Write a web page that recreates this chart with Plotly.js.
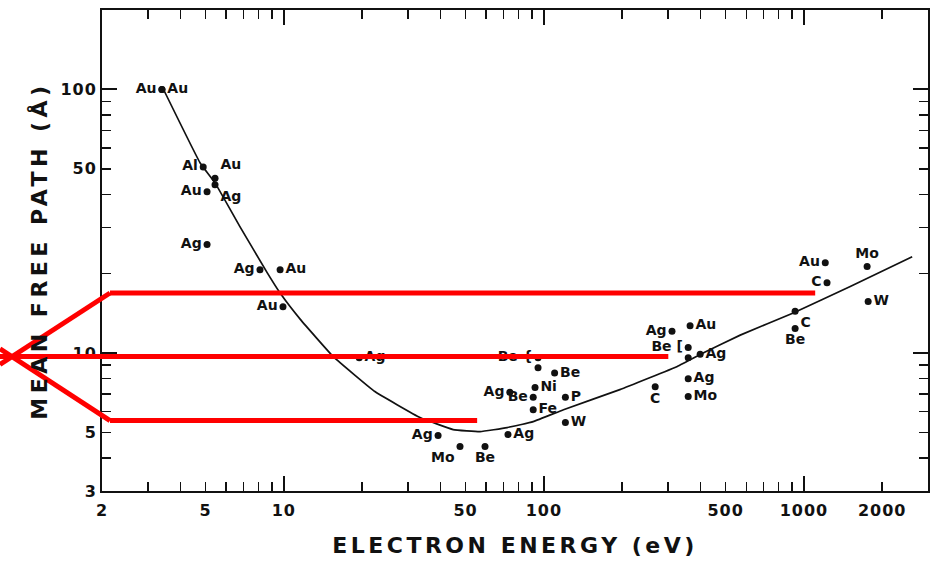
<!DOCTYPE html>
<html><head><meta charset="utf-8">
<script src="https://cdn.plot.ly/plotly-3.0.1.min.js"></script>
<style>html,body{margin:0;padding:0;background:#fff}</style>
</head><body><div id="chart" style="width:940px;height:563px"></div>
<script>
// ---- data (electron energy in eV, mean free path in Å) ----
const curveEnergy = [3.43, 4.77, 5.44, 6.79, 8.63, 9.68, 11.6, 15.5, 22.4, 33.4, 44.8, 56.9, 72.3, 91, 119, 196, 326, 417, 569, 910, 1507, 2608];
const curveLambda = [101, 52.6, 44.2, 30.1, 20.2, 16.9, 13.4, 9.7, 7.15, 5.70, 5.13, 5.04, 5.22, 5.5, 6.1, 7.27, 8.9, 10.1, 11.7, 14.2, 17.9, 23.2];

const leftEnergy = [3.4, 4.9, 5.07, 5.07, 8.1, 9.93, 95, 74, 91, 39.2, 311, 359, 1208, 1227];
const leftLambda = [100, 50.8, 40.9, 25.8, 20.7, 15.0, 9.6, 7.1, 6.8, 4.87, 12.1, 10.5, 22.0, 18.5];
const leftName = ['Au', 'Al', 'Au', 'Ag', 'Ag', 'Au', 'Be {', 'Ag', 'Be', 'Ag', 'Ag', 'Be [', 'Au', 'C'];

const rightEnergy = [3.4, 9.68, 19.5, 110, 92.5, 121, 91, 121, 72.8, 365, 399, 359, 359, 1766];
const rightLambda = [100, 20.7, 9.6, 8.4, 7.4, 6.8, 6.1, 5.45, 4.91, 12.7, 9.9, 8.0, 6.84, 15.7];
const rightName = ['Au', 'Au', 'Ag', 'Be', 'Ni', 'P', 'Fe', 'W', 'Ag', 'Au', 'Ag', 'Ag', 'Mo', 'W'];

const topRightEnergy = [5.44];
const topRightLambda = [46];
const topRightName = ['Au'];

const bottomRightEnergy = [5.44, 925];
const bottomRightLambda = [43.5, 14.4];
const bottomRightName = ['Ag', 'C'];

const belowEnergy = [59.4, 268, 925];
const belowLambda = [4.42, 7.46, 12.4];
const belowName = ['Be', 'C', 'Be'];

const bottomLeftEnergy = [47.6];
const bottomLeftLambda = [4.42];
const bottomLeftName = ['Mo'];

const aboveEnergy = [1750];
const aboveLambda = [21.3];
const aboveName = ['Mo'];

const plainEnergy = [95, 359];
const plainLambda = [8.8, 9.6];

const xTickVals = [2, 5, 10, 50, 100, 500, 1000, 2000];
const xTickText = ['2', '5', '10', '50', '100', '500', '1000', '2000'];
const xMinorVals = [3, 4, 6, 7, 8, 9, 20, 30, 40, 60, 70, 80, 90, 200, 300, 400, 600, 700, 800, 900];
const xDecadeVals = [10, 100, 1000];
const yTickVals = [3, 5, 10, 50, 100];
const yTickText = ['3', '5', '10', '50', '100'];
const yMinorVals = [4, 6, 7, 8, 9, 20, 30, 40, 60, 70, 80, 90];
const yDecadeVals = [10, 100];

// red guide lines (annotation overlay)
const guideLambda = [16.9, 9.7, 5.55];
const guideEndEnergy = [1105, 301, 55.4];

// ---- chart ----
const xRange = [Math.log10(2), Math.log10(3000)];
const yRange = [Math.log10(3), Math.log10(200)];
const FONT = 'DejaVu Sans, Liberation Sans, sans-serif';
const labelFont = {family: FONT, size: 14, color: '#111', weight: 'bold'};
const marker = {color: '#111', size: 7, symbol: 'circle'};

function pts(x, y, names, pos) {
  return {type: 'scatter', mode: names ? 'markers+text' : 'markers', x: x, y: y,
    text: names, textposition: pos, textfont: labelFont, marker: marker,
    hoverinfo: 'skip', showlegend: false, cliponaxis: false};
}

const traces = [
  {type: 'scatter', mode: 'lines', x: curveEnergy, y: curveLambda,
   line: {color: '#111', width: 1.7, shape: 'spline', smoothing: 0.3},
   hoverinfo: 'skip', showlegend: false},
  pts(leftEnergy, leftLambda, leftName, 'middle left'),
  pts(rightEnergy, rightLambda, rightName, 'middle right'),
  pts(topRightEnergy, topRightLambda, topRightName, 'top right'),
  pts(bottomRightEnergy, bottomRightLambda, bottomRightName, 'bottom right'),
  pts(belowEnergy, belowLambda, belowName, 'bottom center'),
  pts(bottomLeftEnergy, bottomLeftLambda, bottomLeftName, 'bottom left'),
  pts(aboveEnergy, aboveLambda, aboveName, 'top center'),
  pts(plainEnergy, plainLambda, null, null),
  {type: 'scatter', x: [], y: [], xaxis: 'x2', yaxis: 'y2', showlegend: false, hoverinfo: 'skip'}
];

const px = e => (Math.log10(e) - xRange[0]) / (xRange[1] - xRange[0]);
const py = l => (Math.log10(l) - yRange[0]) / (yRange[1] - yRange[0]);

// guide geometry in paper units
const xEdge = -0.1235, xCross = -0.109, xKnee = 0.0097;
const red = {color: '#ff0000', width: 5};
const shapes = [];
const lc = Math.log10(guideLambda[1]);
[0, 2].forEach(i => {
  const lk = Math.log10(guideLambda[i]);
  const l0 = lc + (xEdge - xCross) * (lk - lc) / (xKnee - xCross);
  shapes.push({type: 'line', xref: 'paper', yref: 'paper', x0: xEdge, x1: xKnee,
    y0: (l0 - yRange[0]) / (yRange[1] - yRange[0]), y1: py(guideLambda[i]), line: red, layer: 'above'});
  shapes.push({type: 'line', xref: 'paper', yref: 'paper', x0: xKnee, x1: px(guideEndEnergy[i]),
    y0: py(guideLambda[i]), y1: py(guideLambda[i]), line: red, layer: 'above'});
});
shapes.push({type: 'line', xref: 'paper', yref: 'paper', x0: xEdge, x1: px(guideEndEnergy[1]),
  y0: py(guideLambda[1]), y1: py(guideLambda[1]), line: red, layer: 'above'});

const tickFont = {family: FONT, size: 16, color: '#111', weight: 'bold'};
const baseAxis = {type: 'log', showgrid: false, zeroline: false, showline: true, linecolor: '#111',
  linewidth: 2, mirror: 'allticks', ticks: 'inside', ticklen: 9, tickwidth: 1.6, tickcolor: '#111',
  tickfont: tickFont, tickmode: 'array'};

const layout = {
  width: 940, height: 563,
  margin: {l: 102, r: 12, t: 10, b: 72},
  paper_bgcolor: '#fff', plot_bgcolor: '#fff',
  xaxis: Object.assign({}, baseAxis, {range: xRange, tickvals: xTickVals, ticktext: xTickText,
    ticklabelstandoff: 4,
    minor: {tickmode: 'array', tickvals: xMinorVals, ticks: 'inside', ticklen: 9, tickwidth: 1.4, tickcolor: '#111'},
    title: {text: 'ELECTRON ENERGY (eV)', font: {family: FONT, size: 22, color: '#111', weight: 'bold'}, standoff: 18},
    automargin: false}),
  yaxis: Object.assign({}, baseAxis, {range: yRange, tickvals: yTickVals, ticktext: yTickText,
    minor: {tickmode: 'array', tickvals: yMinorVals, ticks: 'inside', ticklen: 9, tickwidth: 1.4, tickcolor: '#111'},
    title: {text: 'MEAN FREE PATH (Å)', font: {family: FONT, size: 22, color: '#111', weight: 'bold'}, standoff: 10},
    automargin: false}),
  xaxis2: {type: 'log', overlaying: 'x', anchor: 'y2', range: xRange, showgrid: false, zeroline: false,
    showline: false, showticklabels: false, mirror: 'allticks', ticks: 'inside', ticklen: 15, tickwidth: 1.8,
    tickcolor: '#111', tickmode: 'array', tickvals: xDecadeVals},
  yaxis2: {type: 'log', overlaying: 'y', anchor: 'x2', range: yRange, showgrid: false, zeroline: false,
    showline: false, showticklabels: false, mirror: 'allticks', ticks: 'inside', ticklen: 15, tickwidth: 1.8,
    tickcolor: '#111', tickmode: 'array', tickvals: yDecadeVals},
  shapes: shapes,
  showlegend: false
};

Plotly.newPlot('chart', traces, layout, {staticPlot: true}).then(() => {
  document.querySelectorAll('.xtitle').forEach(el => el.style.letterSpacing = '3.5px');
  document.querySelectorAll('.ytitle').forEach(el => el.style.letterSpacing = '4.5px');
  document.querySelectorAll('.xtick text, .ytick text').forEach(el => el.style.letterSpacing = '1px');
});
</script></body></html>
